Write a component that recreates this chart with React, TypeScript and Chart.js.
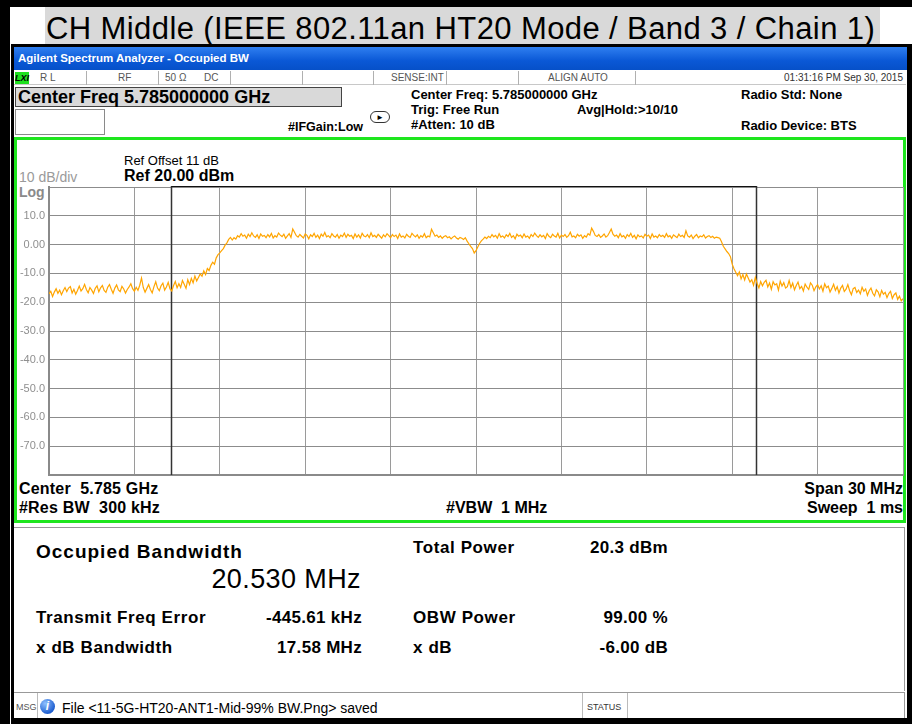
import React, { useEffect, useRef } from "react";
import { Chart, registerables } from "chart.js";

Chart.register(...registerables);

const FONT = '"Liberation Sans", Arial, Helvetica, sans-serif';

// ---- Chart data (dBm, sweep from -15 MHz to +15 MHz around 5.785 GHz) ----
const spanStartMHz = -15;
const spanStopMHz = 15;
const gridStepMHz = 3;
const refLevelDbm = 20;
const bottomLevelDbm = -80;
const dbPerDiv = 10;
const yTickLabels = ["10.0", "0.00", "-10.0", "-20.0", "-30.0", "-40.0", "-50.0", "-60.0", "-70.0"];
const obwEdgesMHz = [-10.71, 9.82];

const leftSkirt = [
  -17.1, -16.2, -18.0, -16.5, -15.3, -16.9, -15.8, -17.4, -16.0, -14.9,
  -16.3, -15.1, -14.6, -16.8, -15.5, -17.2, -15.9, -14.4, -16.1, -15.3,
  -13.8, -15.6, -16.7, -14.9, -15.8, -17.0, -15.2, -14.3, -16.4, -15.0,
  -14.2, -15.9, -16.6, -14.8, -13.9, -15.5, -16.9, -15.1, -14.0, -15.7,
  -16.3, -14.5, -15.4, -16.8, -15.6, -14.7, -13.6, -15.3, -16.2, -14.8,
  -15.9, -14.1, -11.6, -14.9, -16.5, -15.2, -13.9, -15.6, -16.8, -14.6,
  -12.9, -15.1, -16.0, -14.3, -13.4, -15.8, -14.7, -13.1, -15.4, -16.1,
  -14.2, -12.8, -15.0, -13.6, -14.9, -12.5, -13.8, -15.2, -12.2, -13.9,
  -11.7, -13.3, -10.9, -12.6, -11.4,
];
const risingEdge = [
  -10.2, -11.0, -9.1, -10.4, -8.3, -9.0, -7.2, -6.1, -6.8, -4.6,
  -3.5, -2.9, -2.1, -1.4, -0.2, 0.6, 1.8, 2.5,
];
const leftPlateau = [
  1.6, 2.4, 1.9, 3.1, 2.6, 3.8, 2.9, 3.3, 2.2, 3.6,
  2.8, 4.1, 3.0, 2.5, 3.4, 2.1, 3.7, 2.9, 3.2, 2.4,
  3.5, 2.7, 3.9, 2.3, 3.1, 2.6, 4.0, 3.3, 2.8, 3.6,
  2.2, 3.0, 3.8, 2.5, 5.4, 4.3, 3.1, 2.6, 3.5, 2.9,
  2.3, 3.7, 3.2, 2.0, 3.4, 2.8, 3.9, 2.5, 3.3, 2.1,
  3.6, 2.9, 4.2, 2.7, 3.1, 2.4, 3.8, 3.0, 2.6, 3.5,
  2.2, 3.3, 2.8, 4.0, 2.5, 3.6, 2.9, 3.2, 2.1, 3.7,
  2.6, 3.4, 2.3, 3.9, 3.0, 2.7, 3.5, 2.4, 4.1, 2.8,
  3.2, 2.5, 3.6, 2.9, 2.2, 3.4, 2.7, 3.8, 3.1, 2.4,
  3.5, 2.8, 3.3, 2.1, 3.7, 2.6, 3.0, 2.3, 3.6, 2.9,
  2.5, 3.9, 3.2, 2.7, 3.4, 2.2, 3.1, 2.6, 3.8, 2.4,
  3.0, 2.7, 5.3, 4.1, 2.9, 3.3, 2.5, 3.0, 2.2, 2.8,
  3.1, 2.4, 2.7, 2.0, 2.6, 3.0, 2.3, 1.9, 2.5, 2.2,
  1.8, 2.4,
];
const centerDip = [1.2, 0.3, -0.6, -1.4, -2.9, -2.1, -0.8, 0.4, 1.3, 1.9, 2.6];
const rightPlateau = [
  2.1, 2.9, 2.4, 3.5, 2.7, 3.2, 2.2, 3.8, 2.6, 3.0,
  2.3, 3.4, 2.8, 3.9, 2.5, 3.1, 2.0, 3.6, 2.9, 3.3,
  2.4, 3.7, 2.6, 3.0, 2.2, 3.5, 2.8, 4.0, 3.1, 2.5,
  3.4, 2.7, 3.2, 2.1, 3.8, 2.9, 2.4, 3.6, 3.0, 2.6,
  3.9, 2.3, 3.3, 2.8, 3.5, 2.5, 3.1, 4.3, 2.7, 3.0,
  2.4, 3.6, 2.9, 3.4, 2.2, 3.1, 2.6, 3.8, 3.3, 5.7,
  4.6, 3.2, 2.8, 3.5, 2.5, 3.0, 3.7, 2.6, 3.1, 4.2,
  5.4, 3.6, 2.9, 3.3, 2.4, 3.8, 2.7, 3.1, 2.2, 3.5,
  2.8, 3.9, 2.5, 3.2, 2.0, 3.4, 2.7, 3.0, 2.3, 3.6,
  2.9, 3.3, 2.1, 3.7, 2.6, 3.0, 2.4, 3.5, 2.8, 3.2,
  2.5, 3.8, 2.7, 3.1, 2.2, 3.4, 2.9, 2.4, 3.6, 2.8,
  3.2, 2.5, 4.8, 3.0, 2.6, 3.3, 2.1, 2.9, 3.5, 2.4,
  3.0, 2.7, 3.4, 2.3, 2.8, 3.1, 2.5, 2.9, 2.2, 2.6,
  2.4,
];
const fallingEdge = [
  2.2, 1.0, -0.6, -1.5, -2.4, -3.1, -4.2, -6.8, -8.4, -9.6,
  -10.8, -9.5, -11.9, -10.4, -12.3, -10.2,
];
const rightSkirt = [
  -11.6, -13.0, -12.2, -14.1, -11.4, -13.5, -15.0, -12.8, -14.3, -13.1,
  -12.4, -14.7, -13.3, -15.5, -12.9, -14.0, -13.6, -15.8, -12.7, -14.4,
  -13.2, -15.1, -14.6, -12.5, -14.9, -13.4, -15.7, -14.2, -13.0, -15.3,
  -14.5, -16.1, -13.7, -14.8, -15.6, -13.3, -14.1, -16.0, -14.7, -13.9,
  -15.4, -14.3, -16.2, -13.6, -15.0, -14.4, -16.5, -15.2, -13.8, -15.9,
  -14.6, -16.8, -15.1, -14.2, -16.3, -15.5, -13.9, -16.0, -17.4, -15.3,
  -14.9, -16.6, -15.8, -17.1, -14.8, -16.2, -15.4, -17.6, -16.0, -15.1,
  -16.9, -17.8, -15.7, -16.4, -18.1, -15.9, -17.2, -16.6, -18.4, -17.0,
  -16.2, -18.7, -17.4, -16.8, -19.0, -17.9, -19.5, -18.8,
];
const traceDbm = [
  ...leftSkirt, ...risingEdge, ...leftPlateau, ...centerDip,
  ...rightPlateau, ...fallingEdge, ...rightSkirt,
];

// ---- Text values ----
const titleText = "CH Middle (IEEE 802.11an HT20 Mode / Band 3 / Chain 1)";
const occBw = "20.530 MHz";
const txFreqErr = "-445.61 kHz";
const xDbBw = "17.58 MHz";
const totalPower = "20.3 dBm";
const obwPower = "99.00 %";
const xDb = "-6.00 dB";

type TP = {
  x: number; y: number; size: number; bold?: boolean; color?: string;
  right?: boolean; ls?: number; italic?: boolean; children: React.ReactNode;
};
const T = ({ x, y, size, bold, color, right, ls, italic, children }: TP) => (
  <div
    style={{
      position: "absolute",
      top: y - size / 2,
      ...(right ? { right: 912 - x } : { left: x }),
      fontSize: size,
      lineHeight: `${size}px`,
      fontWeight: bold ? 700 : 400,
      fontStyle: italic ? "italic" : "normal",
      color: color || "#000",
      whiteSpace: "pre",
      letterSpacing: ls || 0,
      fontFamily: FONT,
    }}
  >
    {children}
  </div>
);

const Box = (p: { x: number; y: number; w: number; h: number; style?: React.CSSProperties }) => (
  <div style={{ position: "absolute", left: p.x, top: p.y, width: p.w, height: p.h, boxSizing: "border-box", ...p.style }} />
);

const obwPlugin = {
  id: "obwMarkers",
  beforeDatasetsDraw(chart: any) {
    const { ctx, chartArea, scales } = chart;
    const xs = obwEdgesMHz.map((f) => Math.round(scales.x.getPixelForValue(f)) + 0.5);
    ctx.save();
    ctx.strokeStyle = "#333";
    ctx.lineWidth = 1.5;
    xs.forEach((x: number) => {
      ctx.beginPath();
      ctx.moveTo(x, chartArea.top - 1);
      ctx.lineTo(x, chartArea.bottom);
      ctx.stroke();
    });
    ctx.lineWidth = 1;
    ctx.strokeStyle = "#111";
    ctx.beginPath();
    ctx.moveTo(xs[0], chartArea.top - 0.5);
    ctx.lineTo(xs[1], chartArea.top - 0.5);
    ctx.stroke();
    ctx.restore();
  },
};

function SpectrumChart() {
  const ref = useRef<HTMLCanvasElement>(null);
  useEffect(() => {
    if (!ref.current) return;
    const n = traceDbm.length;
    const step = (spanStopMHz - spanStartMHz) / (n - 1);
    const data = traceDbm.map((v, i) => ({ x: spanStartMHz + i * step, y: v }));
    const chart = new Chart(ref.current, {
      type: "line",
      data: {
        datasets: [
          {
            data,
            borderColor: "#FFA500",
            borderWidth: 1.2,
            pointRadius: 0,
            tension: 0,
            fill: false,
          },
        ],
      },
      options: {
        animation: false,
        responsive: false,
        maintainAspectRatio: false,
        layout: { padding: { top: 7, right: 5, bottom: 5, left: 0 } },
        plugins: { legend: { display: false }, tooltip: { enabled: false } },
        scales: {
          x: {
            type: "linear",
            min: spanStartMHz,
            max: spanStopMHz,
            ticks: { display: false, stepSize: gridStepMHz },
            grid: { color: "#9a9a9a", drawTicks: false, lineWidth: 1 },
            border: { display: true, color: "#8a8a8a", width: 2 },
            afterFit: (s: any) => {
              s.height = 0;
              s.paddingLeft = 0; s.paddingRight = 0; s.paddingTop = 0; s.paddingBottom = 0;
            },
          },
          y: {
            type: "linear",
            min: bottomLevelDbm,
            max: refLevelDbm,
            ticks: {
              stepSize: dbPerDiv,
              padding: 4,
              color: "#8f8f8f",
              font: { family: FONT, size: 11 },
              callback: (v: any) => {
                const idx = (refLevelDbm - dbPerDiv - Number(v)) / dbPerDiv;
                return yTickLabels[idx] ?? "";
              },
            },
            grid: { color: "#8c8c8c", drawTicks: false, lineWidth: 1 },
            border: { display: true, color: "#8a8a8a", width: 2 },
            afterFit: (s: any) => {
              s.width = 35;
              s.paddingTop = 0; s.paddingBottom = 0; s.paddingLeft = 0; s.paddingRight = 0;
            },
          },
        },
      },
      plugins: [obwPlugin],
    } as any);
    return () => chart.destroy();
  }, []);
  return (
    <canvas
      ref={ref}
      width={894}
      height={300}
      style={{ position: "absolute", left: 14, top: 180, width: 894, height: 300 }}
    />
  );
}

const sep = (x: number) => <Box x={x} y={71} w={1} h={14} style={{ background: "#b0b0b0" }} />;

export default function App() {
  return (
    <div style={{ position: "absolute", left: 0, top: 0, width: 912, height: 724, background: "#fff", overflow: "hidden", fontFamily: FONT }}>
      {/* outer frame */}
      <Box x={0} y={0} w={912} h={7} style={{ background: "#000" }} />
      <Box x={0} y={0} w={10} h={724} style={{ background: "#000" }} />
      <Box x={11} y={44} w={901} h={680} style={{ background: "#000" }} />
      {/* title band */}
      <Box x={45} y={7} w={835} h={37} style={{ background: "#d9d9d9" }} />
      <T x={46} y={28} size={31} ls={0.4}>{titleText}</T>

      {/* window */}
      <Box x={14} y={47} w={893} h={671} style={{ background: "#fff" }} />
      <Box x={14} y={47} w={893} h={23} style={{ background: "linear-gradient(#2f7ff0, #0a58d6 60%, #0650c8)" }} />
      <T x={18} y={59} size={11.5} bold color="#fff">Agilent Spectrum Analyzer - Occupied BW</T>

      {/* status row */}
      <Box x={14} y={70} w={892} h={15} style={{ background: "#fff", borderBottom: "1px solid #c8c8c8" }} />
      <Box x={15} y={72} w={14} h={12} style={{ background: "#1ee01e" }} />
      <T x={15} y={78} size={9} bold italic>LXI</T>
      <T x={40} y={78} size={10} color="#555">R L</T>
      {sep(86)}
      <T x={118} y={78} size={10} color="#555">RF</T>
      {sep(158)}
      <T x={165} y={78} size={10} color="#555">50 Ω</T>
      <T x={204} y={78} size={10} color="#555">DC</T>
      {sep(230)}
      {sep(302)}
      {sep(373)}
      <T x={391} y={78} size={10} color="#555">SENSE:INT</T>
      {sep(446)}
      {sep(518)}
      <T x={548} y={78} size={10} color="#555">ALIGN AUTO</T>
      {sep(635)}
      <T x={903} y={78} size={10} right color="#333">01:31:16 PM Sep 30, 2015</T>

      {/* header */}
      <Box x={15} y={87} w={327} h={20} style={{ background: "#d9d9d9", border: "1px solid #444" }} />
      <T x={18} y={97} size={18} bold>Center Freq 5.785000000 GHz</T>
      <Box x={15} y={109} w={90} h={26} style={{ background: "#fff", border: "1px solid #8a8a8a" }} />
      <T x={288} y={127} size={12.5} bold>#IFGain:Low</T>
      <Box x={370} y={111} w={20} h={12} style={{ border: "1px solid #333", borderRadius: 6, background: "#fff" }} />
      <T x={376} y={118} size={8}>►</T>
      <T x={411} y={94} size={13} bold>Center Freq: 5.785000000 GHz</T>
      <T x={411} y={109} size={13} bold>Trig: Free Run</T>
      <T x={577} y={109} size={13} bold>Avg|Hold:&gt;10/10</T>
      <T x={411} y={124} size={13} bold>#Atten: 10 dB</T>
      <T x={741} y={94} size={13} bold>Radio Std: None</T>
      <T x={741} y={125} size={13} bold>Radio Device: BTS</T>

      {/* green plot frame */}
      <Box x={14} y={137} w={892} h={386} style={{ border: "3px solid #1ee61e", background: "#fff" }} />
      <T x={124} y={160} size={13}>Ref Offset 11 dB</T>
      <T x={124} y={176} size={16} bold>Ref 20.00 dBm</T>
      <T x={19} y={177} size={14} color="#9a9a9a">10 dB/div</T>
      <T x={19} y={192} size={14} bold color="#8a8a8a">Log</T>
      <SpectrumChart />
      <T x={19} y={489} size={16} bold ls={0.2}>{"Center  5.785 GHz"}</T>
      <T x={19} y={508} size={16} bold ls={0.2}>{"#Res BW  300 kHz"}</T>
      <T x={446} y={508} size={16} bold>{"#VBW  1 MHz"}</T>
      <T x={903} y={489} size={16} bold right>Span 30 MHz</T>
      <T x={903} y={508} size={16} bold right>{"Sweep  1 ms"}</T>

      {/* results panel */}
      <Box x={14} y={527} w={891} h={164} style={{ borderTop: "1px solid #999", borderRight: "1px solid #999", background: "#fff" }} />
      <T x={36} y={551} size={19} bold ls={1}>Occupied Bandwidth</T>
      <T x={361} y={579} size={27} ls={0.4} right>{occBw}</T>
      <T x={36} y={617} size={17} bold ls={0.6}>Transmit Freq Error</T>
      <T x={362} y={617} size={17} bold ls={0.3} right>{txFreqErr}</T>
      <T x={36} y={647} size={17} bold ls={0.6}>x dB Bandwidth</T>
      <T x={362} y={647} size={17} bold ls={0.3} right>{xDbBw}</T>
      <T x={413} y={547} size={17} bold ls={0.6}>Total Power</T>
      <T x={668} y={547} size={17} bold ls={0.3} right>{totalPower}</T>
      <T x={413} y={617} size={17} bold ls={0.6}>OBW Power</T>
      <T x={668} y={617} size={17} bold ls={0.3} right>{obwPower}</T>
      <T x={413} y={647} size={17} bold ls={0.6}>x dB</T>
      <T x={668} y={647} size={17} bold ls={0.3} right>{xDb}</T>

      {/* status bar */}
      <Box x={14} y={692} w={891} h={26} style={{ borderTop: "1px solid #999", borderRight: "1px solid #999", background: "#fff" }} />
      <Box x={37} y={693} w={1} h={25} style={{ background: "#bbb" }} />
      <T x={16} y={707} size={9} color="#555">MSG</T>
      <div style={{ position: "absolute", left: 40, top: 699, width: 15, height: 15, borderRadius: "50%", background: "radial-gradient(circle at 35% 30%, #8fc0ff, #1f5fd0 70%)", color: "#fff", fontSize: 12, lineHeight: "15px", textAlign: "center", fontWeight: 700, fontStyle: "italic", fontFamily: FONT }}>i</div>
      <T x={62} y={708} size={14}>File &lt;11-5G-HT20-ANT1-Mid-99% BW.Png&gt; saved</T>
      <Box x={582} y={693} w={1} h={25} style={{ background: "#bbb" }} />
      <T x={587} y={707} size={9} color="#333">STATUS</T>
      <Box x={627} y={693} w={1} h={25} style={{ background: "#bbb" }} />
    </div>
  );
}
